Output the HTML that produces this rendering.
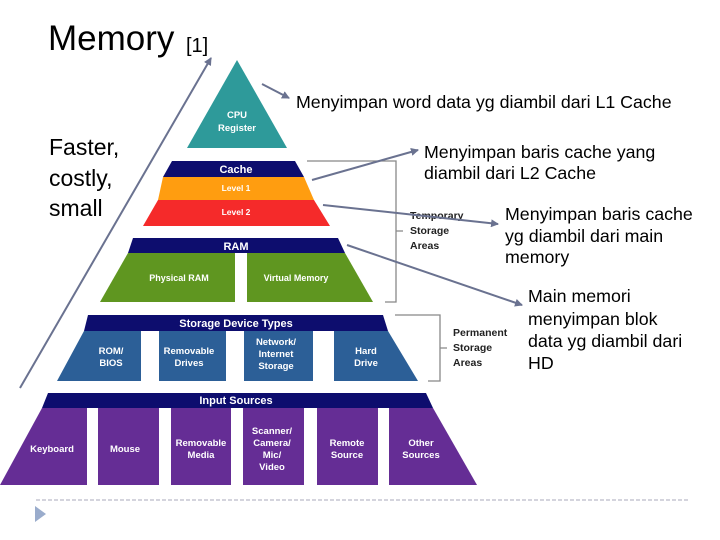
<!DOCTYPE html>
<html><head><meta charset="utf-8"><style>
body{margin:0;background:#fff;width:720px;height:540px;overflow:hidden}
svg{display:block}
.w{font-family:"Liberation Sans",sans-serif;font-weight:bold;fill:#fff;font-size:9.5px;text-anchor:middle}
.k{font-family:"Liberation Sans",sans-serif;font-weight:bold;fill:#222;font-size:10.5px}
.a{font-family:"Liberation Sans",sans-serif;fill:#000;font-size:17.8px}
.f{font-family:"Liberation Sans",sans-serif;fill:#000;font-size:23px}
</style></head><body>
<svg width="720" height="540" viewBox="0 0 720 540">
<defs><marker id="ah" markerWidth="8" markerHeight="8" refX="7" refY="4" orient="auto" markerUnits="userSpaceOnUse"><path d="M0,0 L8,4 L0,8 z" fill="#6a7290"/></marker></defs>
<text x="48" y="50" font-family="Liberation Sans,sans-serif" font-size="35">Memory</text>
<text x="186" y="52" font-family="Liberation Sans,sans-serif" font-size="20">[1]</text>
<text class="f" x="49" y="155">Faster,</text>
<text class="f" x="49" y="186">costly,</text>
<text class="f" x="49" y="216">small</text>
<polygon points="237,60 287,148 187,148" fill="#2e9a9a"/>
<text class="w" x="237" y="118">CPU</text><text class="w" x="237" y="131">Register</text>
<polygon points="172,161 295,161 304,177 163,177" fill="#0d0d6e"/>
<text class="w" x="236" y="173" style="font-size:11px">Cache</text>
<polygon points="163,177 304,177 314,200 158,200" fill="#ff9d10"/>
<text class="w" x="236" y="191" style="font-size:8.5px">Level 1</text>
<polygon points="158,200 314,200 330,226 143,226" fill="#f52a2a"/>
<text class="w" x="236" y="215" style="font-size:8.5px">Level 2</text>
<polygon points="133,238 338,238 345,253 128,253" fill="#0d0d6e"/>
<text class="w" x="236" y="250" style="font-size:11px">RAM</text>
<polygon points="128,253 235,253 235,302 100,302" fill="#5f9620"/>
<polygon points="247,253 345,253 373,302 247,302" fill="#5f9620"/>
<text class="w" x="179" y="281" style="font-size:9px">Physical RAM</text>
<text class="w" x="296" y="281" style="font-size:9px">Virtual Memory</text>
<polygon points="88,315 383,315 388,331 84,331" fill="#0d0d6e"/>
<text class="w" x="236" y="327" style="font-size:11px">Storage Device Types</text>
<polygon points="84,331 141,331 141,381 57,381" fill="#2c5f97"/>
<rect x="159" y="331" width="67" height="50" fill="#2c5f97"/>
<rect x="244" y="331" width="69" height="50" fill="#2c5f97"/>
<polygon points="334,331 388,331 418,381 334,381" fill="#2c5f97"/>
<text class="w" x="111" y="354">ROM/</text><text class="w" x="111" y="366">BIOS</text>
<text class="w" x="189" y="354">Removable</text><text class="w" x="189" y="366">Drives</text>
<text class="w" x="276" y="345">Network/</text><text class="w" x="276" y="357">Internet</text><text class="w" x="276" y="369">Storage</text>
<text class="w" x="366" y="354">Hard</text><text class="w" x="366" y="366">Drive</text>
<polygon points="48,393 426,393 433,408 42,408" fill="#0d0d6e"/>
<text class="w" x="236" y="404" style="font-size:11px">Input Sources</text>
<polygon points="42,408 87,408 87,485 0,485" fill="#652d95"/>
<rect x="98" y="408" width="61" height="77" fill="#652d95"/>
<rect x="171" y="408" width="60" height="77" fill="#652d95"/>
<rect x="243" y="408" width="61" height="77" fill="#652d95"/>
<rect x="317" y="408" width="61" height="77" fill="#652d95"/>
<polygon points="389,408 433,408 477,485 389,485" fill="#652d95"/>
<text class="w" x="52" y="452">Keyboard</text>
<text class="w" x="125" y="452">Mouse</text>
<text class="w" x="201" y="446">Removable</text><text class="w" x="201" y="458">Media</text>
<text class="w" x="272" y="434">Scanner/</text><text class="w" x="272" y="446">Camera/</text><text class="w" x="272" y="458">Mic/</text><text class="w" x="272" y="470">Video</text>
<text class="w" x="347" y="446">Remote</text><text class="w" x="347" y="458">Source</text>
<text class="w" x="421" y="446">Other</text><text class="w" x="421" y="458">Sources</text>
<path d="M307,161 H396 V302 H385 M396,231 H403" stroke="#888" fill="none" stroke-width="1.3"/>
<text class="k" x="410" y="219">Temporary</text><text class="k" x="410" y="234">Storage</text><text class="k" x="410" y="249">Areas</text>
<path d="M395,315 H440 V381 H428 M440,348 H447" stroke="#888" fill="none" stroke-width="1.3"/>
<text class="k" x="453" y="336">Permanent</text><text class="k" x="453" y="351">Storage</text><text class="k" x="453" y="366">Areas</text>
<g stroke="#6a7290" stroke-width="2" fill="none" marker-end="url(#ah)">
<line x1="20" y1="388" x2="211" y2="58"/>
<line x1="262" y1="84" x2="289" y2="98"/>
<line x1="312" y1="180" x2="418" y2="150"/>
<line x1="323" y1="205" x2="498" y2="224"/>
<line x1="347" y1="245" x2="522" y2="305"/>
</g>
<text class="a" x="296" y="108">Menyimpan word data yg diambil dari L1 Cache</text>
<text class="a" x="424" y="158">Menyimpan baris cache yang</text>
<text class="a" x="424" y="179">diambil dari L2 Cache</text>
<text class="a" x="505" y="220">Menyimpan baris cache</text>
<text class="a" x="505" y="242">yg diambil dari main</text>
<text class="a" x="505" y="263">memory</text>
<text class="a" x="528" y="302">Main memori</text>
<text class="a" x="528" y="325">menyimpan blok</text>
<text class="a" x="528" y="347">data yg diambil dari</text>
<text class="a" x="528" y="369">HD</text>
<line x1="36" y1="500" x2="688" y2="500" stroke="#aab" stroke-dasharray="4,2" stroke-width="1"/>
<polygon points="35,506 46,514 35,522" fill="#9aaccc"/>
</svg>
</body></html>
